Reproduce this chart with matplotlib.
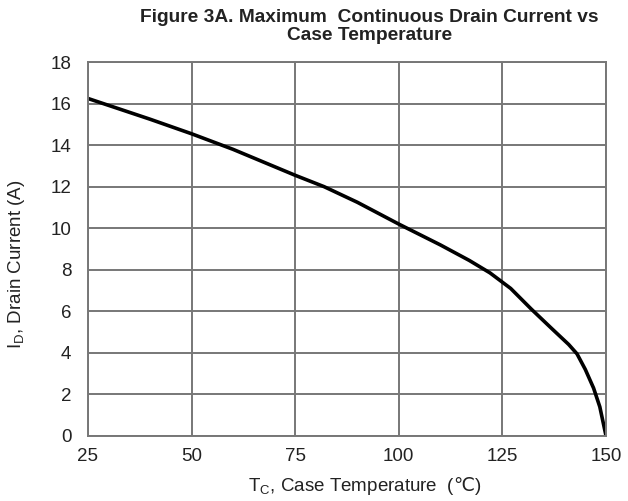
import matplotlib
matplotlib.use('Agg')
import matplotlib.pyplot as plt

# Drain current derating curve
temp_c = [25, 40, 50, 60, 75, 82, 90, 100, 110, 117, 122, 127, 132, 137, 141, 143, 145, 147, 148.5, 150]
drain_a = [16.25, 15.25, 14.55, 13.8, 12.55, 12.0, 11.25, 10.2, 9.2, 8.45, 7.85, 7.1, 6.1, 5.15, 4.4, 3.95, 3.2, 2.3, 1.4, 0.0]

x_ticks = [25, 50, 75, 100, 125, 150]
y_ticks = [0, 2, 4, 6, 8, 10, 12, 14, 16, 18]

plt.rcParams['font.family'] = ['Liberation Sans', 'DejaVu Sans']
plt.rcParams['mathtext.fontset'] = 'custom'
plt.rcParams['mathtext.rm'] = 'DejaVu Sans'

fig = plt.figure(figsize=(6.28, 5.01), dpi=100)
ax = fig.add_axes([0.140, 0.130, 0.825, 0.746])

ax.plot(temp_c, drain_a, color='black', linewidth=2.6,
        solid_capstyle='round', solid_joinstyle='round')

ax.set_xlim(25, 150)
ax.set_ylim(0, 18)
ax.set_xticks(x_ticks)
ax.set_yticks(y_ticks)
ax.grid(True, color='#777777', linewidth=1.4)
ax.set_axisbelow(True)
for s in ax.spines.values():
    s.set_color('#777777')
    s.set_linewidth(1.4)
ax.tick_params(length=0, labelsize=13.5, colors='#222222')
ax.tick_params(axis='x', pad=9)
ax.tick_params(axis='y', pad=12)

ax.set_xlabel(r'T$_{\mathregular{C}}$, Case Temperature  ($\mathrm{℃}$)', fontsize=13.5, color='#222222')
ax.xaxis.set_label_coords(0.535, -0.105)
ax.set_ylabel(r'I$_{\mathregular{D}}$, Drain Current (A)', fontsize=13.5, color='#222222')
ax.yaxis.set_label_coords(-0.118, 0.46)

fig.text(0.588, 0.982, 'Figure 3A. Maximum  Continuous Drain Current vs\nCase Temperature',
         ha='center', va='top', fontsize=13.8, fontweight='bold', color='#222222', linespacing=1.1)

fig.savefig('out.png', dpi=100)
